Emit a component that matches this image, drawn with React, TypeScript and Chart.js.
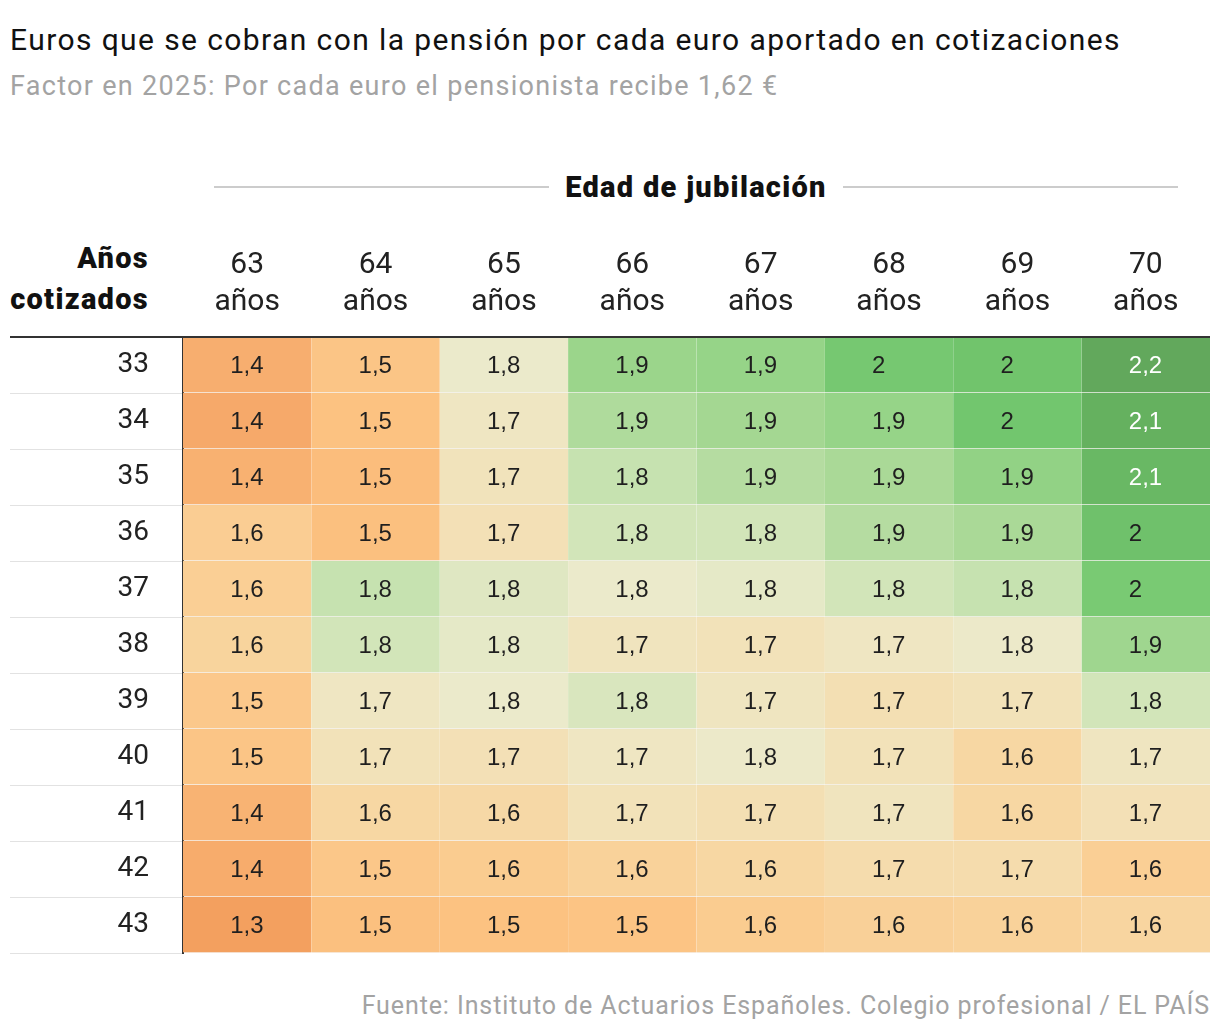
import React, { useEffect, useRef } from 'react';
import { Chart, registerables } from 'chart.js';
Chart.register(...registerables);

const titleText = 'Euros que se cobran con la pensión por cada euro aportado en cotizaciones';
const subtitleText = 'Factor en 2025: Por cada euro el pensionista recibe 1,62 €';
const sourceText = 'Fuente: Instituto de Actuarios Españoles. Colegio profesional / EL PAÍS';
const columnGroupTitle = 'Edad de jubilación';
const rowAxisTitle = ['Años', 'cotizados'];

// Retirement ages (columns)
const ageLabels = ['63', '64', '65', '66', '67', '68', '69', '70'];
// Years contributed (rows)
const yearLabels = ['33', '34', '35', '36', '37', '38', '39', '40', '41', '42', '43'];

// Factor values per row (years contributed), one entry per retirement age
const y33 = [1.42, 1.52, 1.78, 1.92, 1.93, 2.01, 2.03, 2.2];
const y34 = [1.4, 1.5, 1.74, 1.88, 1.9, 1.93, 2.02, 2.12];
const y35 = [1.43, 1.48, 1.71, 1.84, 1.87, 1.89, 1.94, 2.08];
const y36 = [1.57, 1.49, 1.69, 1.82, 1.82, 1.87, 1.89, 2.04];
const y37 = [1.58, 1.84, 1.8, 1.78, 1.79, 1.82, 1.84, 2.0];
const y38 = [1.61, 1.82, 1.79, 1.72, 1.7, 1.74, 1.77, 1.91];
const y39 = [1.54, 1.74, 1.78, 1.81, 1.73, 1.68, 1.7, 1.82];
const y40 = [1.52, 1.7, 1.69, 1.74, 1.77, 1.7, 1.63, 1.73];
const y41 = [1.44, 1.63, 1.64, 1.7, 1.68, 1.72, 1.63, 1.69];
const y42 = [1.41, 1.53, 1.56, 1.6, 1.63, 1.66, 1.66, 1.58];
const y43 = [1.34, 1.49, 1.5, 1.51, 1.56, 1.59, 1.6, 1.62];
const factorRows = [y33, y34, y35, y36, y37, y38, y39, y40, y41, y42, y43];

// Colour scale stops
const scaleValues = [1.3, 1.4, 1.5, 1.6, 1.7, 1.78, 1.84, 1.9, 1.97, 2.02, 2.1, 2.2];
const scaleColors = ['#f19a58', '#f6a96a', '#fcc281', '#f9d29a', '#f2e2b9', '#ebeacb', '#c6e2b0', '#a4d792', '#84cf7b', '#72c66e', '#66b360', '#62a85c'];

function hexToRgb(h: string) {
  const n = parseInt(h.slice(1), 16);
  return [(n >> 16) & 255, (n >> 8) & 255, n & 255];
}
function colorFor(v: number) {
  if (v <= scaleValues[0]) return scaleColors[0];
  for (let i = 1; i < scaleValues.length; i++) {
    if (v <= scaleValues[i]) {
      const t = (v - scaleValues[i - 1]) / (scaleValues[i] - scaleValues[i - 1]);
      const a = hexToRgb(scaleColors[i - 1]);
      const b = hexToRgb(scaleColors[i]);
      const c = a.map((x, k) => Math.round(x + (b[k] - x) * t));
      return `rgb(${c[0]},${c[1]},${c[2]})`;
    }
  }
  return scaleColors[scaleColors.length - 1];
}
function fmt(v: number) {
  const s = v.toFixed(1);
  return s.endsWith('.0') ? s.slice(0, -2) : s.replace('.', ',');
}

const cellLabels = {
  id: 'cellLabels',
  afterDatasetsDraw(chart: any) {
    const ctx = chart.ctx;
    ctx.save();
    ctx.font = '24px "Liberation Sans", Arial, sans-serif';
    ctx.textAlign = 'left';
    ctx.textBaseline = 'middle';
    chart.data.datasets.forEach((ds: any, i: number) => {
      const meta = chart.getDatasetMeta(i);
      meta.data.forEach((bar: any, j: number) => {
        const v = ds.values[j];
        const c = bar.getCenterPoint();
        ctx.fillStyle = v >= 2.05 ? '#ffffff' : '#1f1f1f';
        ctx.fillText(fmt(v), c.x - 17, c.y + 1);
      });
    });
    ctx.restore();
  },
  afterDraw(chart: any) {
    const ctx = chart.ctx;
    const a = chart.chartArea;
    ctx.save();
    ctx.strokeStyle = '#333333';
    ctx.lineWidth = 2;
    ctx.beginPath();
    ctx.moveTo(10, a.top);
    ctx.lineTo(a.right, a.top);
    ctx.stroke();
    ctx.restore();
  },
};

export default function App() {
  const ref = useRef<HTMLCanvasElement | null>(null);
  useEffect(() => {
    document.body.style.margin = '0';
    if (!ref.current) return;
    const datasets = factorRows.map((row, i) => ({
      label: yearLabels[i],
      data: ageLabels.map(() => [i, i + 1]),
      values: row,
      backgroundColor: row.map(colorFor),
      borderColor: 'rgba(120,90,40,0.07)',
      borderWidth: { top: 0, left: 0, right: 0, bottom: 1 },
      borderSkipped: false,
      grouped: false,
      barPercentage: 1,
      categoryPercentage: 1,
    }));
    const chart = new Chart(ref.current, {
      type: 'bar',
      data: { labels: ageLabels.map((a) => [a, 'años']), datasets: datasets as any },
      options: {
        animation: false,
        responsive: true,
        maintainAspectRatio: false,
        layout: { padding: { left: 0, right: 10, top: 0, bottom: 7 } },
        plugins: { legend: { display: false }, tooltip: { enabled: false } },
        scales: {
          x: {
            type: 'category',
            position: 'top',
            offset: true,
            grid: { display: false, drawTicks: false },
            border: { display: false },
            ticks: { color: '#222', font: { family: 'Roboto', size: 30, lineHeight: 1.235 }, padding: 16, maxRotation: 0, autoSkip: false },
            afterFit: (s: any) => { s.height = 117; },
          },
          y: { type: 'linear', min: 0, max: 11, reverse: true, display: false },
          rows: {
            type: 'category',
            axis: 'y',
            position: 'left',
            labels: yearLabels,
            offset: true,
            grid: { display: true, offset: true, drawOnChartArea: false, drawTicks: true, tickLength: 173, color: '#e2e2e2', lineWidth: 1 },
            border: { display: true, color: '#333333', width: 2 },
            ticks: { color: '#222', font: { family: 'Roboto', size: 28 }, padding: -139, autoSkip: false },
            afterFit: (s: any) => { s.width = 183; },
          },
        } as any,
      },
      plugins: [cellLabels],
    });
    return () => chart.destroy();
  }, []);

  const abs = (o: any) => ({ position: 'absolute', margin: 0, whiteSpace: 'nowrap', ...o } as React.CSSProperties);
  return (
    <div style={{ position: 'relative', width: 1220, height: 1036, fontFamily: 'Roboto, sans-serif' }}>
      <div style={abs({ left: 10, top: 22, fontSize: 30, lineHeight: '35px', letterSpacing: '1.4px', color: '#111' })}>{titleText}</div>
      <div style={abs({ left: 10, top: 71, fontSize: 27, lineHeight: '31px', letterSpacing: '1.3px', color: '#a3a3a3' })}>{subtitleText}</div>
      <div style={abs({ left: 214, top: 186, width: 335, height: 2, background: '#cccccc' })} />
      <div style={abs({ left: 843, top: 186, width: 335, height: 2, background: '#cccccc' })} />
      <div style={abs({ left: 549, width: 294, top: 170, fontSize: 29, lineHeight: '34px', fontWeight: 900, letterSpacing: '1.3px', color: '#111', textAlign: 'center' })}>{columnGroupTitle}</div>
      <div style={abs({ right: 1220 - 149, top: 238, fontSize: 29, lineHeight: '41px', fontWeight: 900, letterSpacing: '1.3px', color: '#111', textAlign: 'right' })}>
        {rowAxisTitle[0]}<br />{rowAxisTitle[1]}
      </div>
      <div style={abs({ left: 0, top: 220, width: 1220, height: 740 })}>
        <canvas ref={ref} />
      </div>
      <div style={abs({ right: 10, top: 992, fontSize: 25, lineHeight: '28px', letterSpacing: '0.9px', color: '#a3a3a3', textAlign: 'right' })}>{sourceText}</div>
    </div>
  );
}
